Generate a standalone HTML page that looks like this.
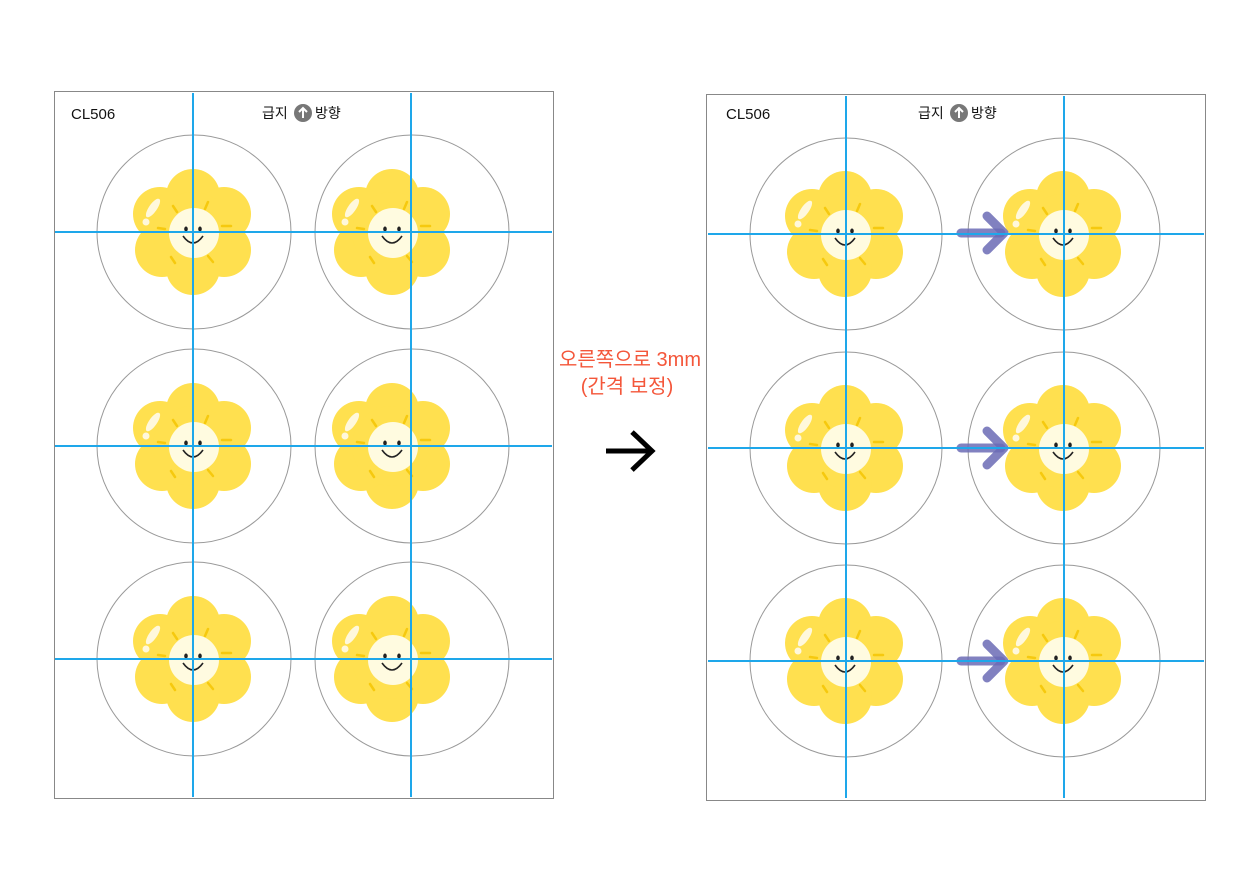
<!DOCTYPE html>
<html><head><meta charset="utf-8"><style>
html,body{margin:0;padding:0;background:#fff;}
svg{display:block;}
text{font-family:"Liberation Sans","Noto Sans CJK KR",sans-serif;}
</style></head><body>
<svg width="1260" height="891" viewBox="0 0 1260 891" xmlns="http://www.w3.org/2000/svg">
<defs>
<g id="fl">
  <g fill="#ffe04f">
    <circle cx="0" cy="-36" r="27"/>
    <circle cx="31" cy="-18" r="27"/>
    <circle cx="31" cy="18" r="27"/>
    <circle cx="0" cy="36" r="27"/>
    <circle cx="-31" cy="18" r="27"/>
    <circle cx="-33" cy="-18" r="27"/>
    <circle cx="0" cy="0" r="40"/>
  </g>
  <g stroke="#f6c90e" stroke-width="2.5" stroke-linecap="round" fill="none">
    <line x1="-20" y1="-26" x2="-16" y2="-20"/>
    <line x1="15" y1="-30" x2="12" y2="-23"/>
    <line x1="29" y1="-6" x2="38" y2="-6"/>
    <line x1="15" y1="24" x2="20" y2="30"/>
    <line x1="-22" y1="25" x2="-18" y2="31"/>
    <line x1="-35" y1="-4" x2="-28" y2="-3"/>
  </g>
  <ellipse cx="-40" cy="-24" rx="4" ry="11" transform="rotate(35 -40 -24)" fill="#fff8dc"/>
  <circle cx="-47" cy="-10" r="3.5" fill="#fff8dc"/>
  <circle cx="1" cy="1" r="25" fill="#fffbe0"/>
  <ellipse cx="-7" cy="-3" rx="1.8" ry="2.5" fill="#222"/>
  <ellipse cx="7" cy="-3" rx="1.8" ry="2.5" fill="#222"/>
  <path d="M-10 4 Q0 18 10 4" stroke="#222" stroke-width="1.6" fill="none"/>
</g>
<g id="parr">
  <line x1="0" y1="0" x2="40" y2="0" stroke="#6b6bb5" stroke-opacity="0.85" stroke-width="9" stroke-linecap="round"/>
  <polyline points="26,-17 43,0 26,17" stroke="#6b6bb5" stroke-opacity="0.85" stroke-width="9" stroke-linecap="round" stroke-linejoin="round" fill="none"/>
</g>
</defs>

<!-- left page -->
<rect x="54.5" y="91.5" width="499" height="707" fill="none" stroke="#888" stroke-width="1"/>
<text x="71" y="119" font-size="15" fill="#111">CL506</text>
<text x="262" y="118" font-size="14" fill="#111">급지</text>
<circle cx="303" cy="113" r="9" fill="#777"/>
<path d="M303 118 V108 M299 112 L303 108 L307 112" stroke="#fff" stroke-width="2" fill="none"/>
<text x="315" y="118" font-size="14" fill="#111">방향</text>
<g fill="none" stroke="#999" stroke-width="1">
  <circle cx="194" cy="232" r="97"/><circle cx="412" cy="232" r="97"/>
  <circle cx="194" cy="446" r="97"/><circle cx="412" cy="446" r="97"/>
  <circle cx="194" cy="659" r="97"/><circle cx="412" cy="659" r="97"/>
</g>
<use href="#fl" x="193" y="232"/><use href="#fl" x="392" y="232"/>
<use href="#fl" x="193" y="446"/><use href="#fl" x="392" y="446"/>
<use href="#fl" x="193" y="659"/><use href="#fl" x="392" y="659"/>
<g stroke="#1ea7ea" stroke-width="2">
  <line x1="193" y1="93" x2="193" y2="797"/><line x1="411" y1="93" x2="411" y2="797"/>
  <line x1="55" y1="232" x2="552" y2="232"/><line x1="55" y1="446" x2="552" y2="446"/><line x1="55" y1="659" x2="552" y2="659"/>
</g>

<!-- middle -->
<text x="630" y="366" font-size="20" fill="#f4563a" text-anchor="middle">오른쪽으로 3mm</text>
<text x="627" y="393" font-size="20" fill="#f4563a" text-anchor="middle">(간격 보정)</text>
<line x1="606" y1="451" x2="652" y2="451" stroke="#000" stroke-width="5"/>
<polyline points="632,432 652,451 632,470" stroke="#000" stroke-width="5" fill="none"/>

<!-- right page -->
<rect x="706.5" y="94.5" width="499" height="706" fill="none" stroke="#888" stroke-width="1"/>
<text x="726" y="119" font-size="15" fill="#111">CL506</text>
<text x="918" y="118" font-size="14" fill="#111">급지</text>
<circle cx="959" cy="113" r="9" fill="#777"/>
<path d="M959 118 V108 M955 112 L959 108 L963 112" stroke="#fff" stroke-width="2" fill="none"/>
<text x="971" y="118" font-size="14" fill="#111">방향</text>
<g fill="none" stroke="#999" stroke-width="1">
  <circle cx="846" cy="234" r="96"/><circle cx="1064" cy="234" r="96"/>
  <circle cx="846" cy="448" r="96"/><circle cx="1064" cy="448" r="96"/>
  <circle cx="846" cy="661" r="96"/><circle cx="1064" cy="661" r="96"/>
</g>
<use href="#fl" x="845" y="234"/><use href="#fl" x="1063" y="234"/>
<use href="#fl" x="845" y="448"/><use href="#fl" x="1063" y="448"/>
<use href="#fl" x="845" y="661"/><use href="#fl" x="1063" y="661"/>
<use href="#parr" x="961" y="233"/><use href="#parr" x="961" y="448"/><use href="#parr" x="961" y="661"/>
<g stroke="#1ea7ea" stroke-width="2">
  <line x1="846" y1="96" x2="846" y2="798"/><line x1="1064" y1="96" x2="1064" y2="798"/>
  <line x1="708" y1="234" x2="1204" y2="234"/><line x1="708" y1="448" x2="1204" y2="448"/><line x1="708" y1="661" x2="1204" y2="661"/>
</g>
</svg>
</body></html>
